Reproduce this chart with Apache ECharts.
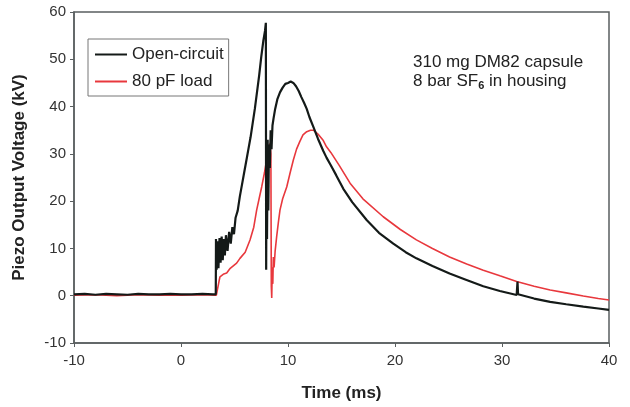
<!DOCTYPE html>
<html><head><meta charset="utf-8">
<script src="https://cdn.jsdelivr.net/npm/echarts@6/dist/echarts.min.js"></script>
<style>html,body{margin:0;padding:0;background:#fff}#c{width:630px;height:407px}</style>
</head><body><div id="c"></div>
<script>
const xTicks = [-10, 0, 10, 20, 30, 40];
const yTicks = [-10, 0, 10, 20, 30, 40, 50, 60];
const seriesNames = ['Open-circuit', '80 pF load'];
const openCircuit = [[-10,0.3],[-9,0.4],[-8,0.2],[-7,0.4],[-6,0.3],[-5,0.2],[-4,0.4],[-3,0.3],[-2,0.3],[-1,0.4],[0,0.3],[1,0.3],[2,0.4],[3,0.3],[3.25,0.3],
[3.27,12],[3.33,5.5],[3.42,11.5],[3.5,5.8],[3.6,12.2],[3.7,7],[3.8,12.5],[3.9,7.5],[4.0,12],[4.1,8.5],[4.2,12.8],[4.35,9.5],[4.5,13.5],[4.65,11],[4.8,14.5],[4.95,13],[5.1,16.5],[5.3,18],[5.5,21],[5.7,23.5],[5.9,26],[6.1,28.5],[6.3,31],[6.5,33.5],[6.7,36.5],[6.9,39.5],[7.1,43],[7.3,46.5],[7.5,50.5],[7.7,54],[7.85,56],[7.93,57.7],[7.96,5.5],[8.0,30],[8.04,12],[8.1,33],[8.16,18],[8.22,32],[8.3,27],[8.38,35],[8.46,31],[8.55,36],[8.65,37.5],[8.8,39.5],[9.0,41.5],[9.25,43],[9.5,44],[9.75,44.8],[10.0,45],[10.25,45.3],[10.5,45],[10.75,44.3],[11.0,43.3],[11.25,42],[11.5,40.8],[11.75,39.5],[12.0,37.8],[12.37,35.7],[12.8,33.2],[13.3,30.6],[13.6,29.2],[14.0,27.6],[14.5,25.5],[15.17,22.6],[16,19.8],[17.35,16.0],[18.5,13.3],[19.84,11.0],[21,9.2],[22,7.9],[23.5,6.3],[25.1,4.7],[26.5,3.5],[28.25,2.0],[29.8,1.0],[31.37,0.15],[31.45,3.0],[31.5,0.3],[33,-0.6],[34.5,-1.3],[36,-1.8],[37.6,-2.3],[39,-2.7],[40,-3.0]];
const load80pF = [[-10,0.1],[-8,0.2],[-6,0],[-4,0.2],[-2,0.1],[0,0.1],[2,0.2],[3.3,0.1],[3.45,0.5],[3.55,3],[3.64,4],[3.8,3.6],[4.0,4.6],[4.27,4.8],[4.6,5.8],[5.2,6.9],[5.51,7.9],[6.0,9.2],[6.45,11.8],[6.8,14.5],[7.07,18.1],[7.3,20.5],[7.54,23],[7.8,26],[8.0,28.7],[8.2,31.5],[8.32,32.2],[8.4,30],[8.44,2],[8.48,-0.5],[8.53,6],[8.58,2.5],[8.63,8.2],[8.7,6],[8.8,9.5],[8.94,12.5],[9.1,15.5],[9.25,18.1],[9.5,20.5],[9.88,23],[10.2,26],[10.5,28.7],[10.8,31],[11.1,32.6],[11.4,34],[11.75,34.7],[12.1,35],[12.37,35],[12.8,34.2],[13.3,32.8],[13.6,31.5],[14.0,30.3],[14.8,27.5],[15.8,23.8],[17,20.5],[18.9,16.7],[20.5,14],[22,11.8],[23.5,10],[25.1,8.2],[26.7,6.7],[28.25,5.4],[29.8,4.2],[31.37,3.0],[33,2.0],[34.5,1.2],[36,0.6],[37.6,-0.06],[39,-0.6],[40,-0.9]];

const FONT = '"Liberation Sans", Arial, sans-serif';
const axisCol = '#5a5f60';
const chart = echarts.init(document.getElementById('c'), null, {renderer:'canvas'});
chart.setOption({
  animation: false,
  backgroundColor: '#fff',
  grid: {left: 74, right: 21, top: 12, bottom: 64, show: true, borderColor: axisCol, borderWidth: 1.5},
  legend: {
    left: 88, top: 39, orient: 'vertical', icon: 'rect', itemWidth: 32, itemHeight: 2,
    itemGap: 10, padding: [7, 5, 6, 7], borderColor: '#777', borderWidth: 1,
    textStyle: {fontFamily: FONT, fontSize: 17, color: '#222'},
    data: seriesNames
  },
  xAxis: {
    type: 'value', min: xTicks[0], max: xTicks[xTicks.length-1], interval: 10,
    name: 'Time (ms)', nameLocation: 'middle', nameGap: 42,
    nameTextStyle: {fontFamily: FONT, fontSize: 17, fontWeight: 'bold', color: '#222'},
    axisLine: {onZero: false, lineStyle: {color: axisCol, width: 1.5}},
    axisTick: {show: true, length: 4, lineStyle: {color: axisCol}},
    axisLabel: {fontFamily: FONT, fontSize: 15, color: '#333', margin: 10},
    splitLine: {show: false}
  },
  yAxis: {
    type: 'value', min: yTicks[0], max: yTicks[yTicks.length-1], interval: 10,
    name: 'Piezo Output Voltage (kV)', nameLocation: 'middle', nameGap: 46,
    nameTextStyle: {fontFamily: FONT, fontSize: 17, fontWeight: 'bold', color: '#222'},
    axisLine: {show: true, onZero: false, lineStyle: {color: axisCol, width: 1.5}},
    axisTick: {show: true, length: 4, lineStyle: {color: axisCol}},
    axisLabel: {fontFamily: FONT, fontSize: 15, color: '#333', margin: 8},
    splitLine: {show: false}
  },
  graphic: [{
    type: 'text', left: 413, top: 53,
    style: {
      text: '310 mg DM82 capsule\n8 bar SF{sub|6} in housing',
      fontFamily: FONT, fontSize: 17, fill: '#222', lineHeight: 19,
      rich: {sub: {fontSize: 11, fontWeight: 'bold', verticalAlign: 'bottom', padding: [9,0,0,0], fontFamily: FONT, fill: '#222'}}
    }
  }],
  series: [
    {name: seriesNames[0], type: 'line', data: openCircuit, showSymbol: false, z: 3,
     lineStyle: {color: '#141a18', width: 2.2}, itemStyle: {color: '#141a18'}},
    {name: seriesNames[1], type: 'line', data: load80pF, showSymbol: false, z: 2,
     lineStyle: {color: '#e8383d', width: 1.6}, itemStyle: {color: '#e8383d'}}
  ]
});
</script></body></html>
